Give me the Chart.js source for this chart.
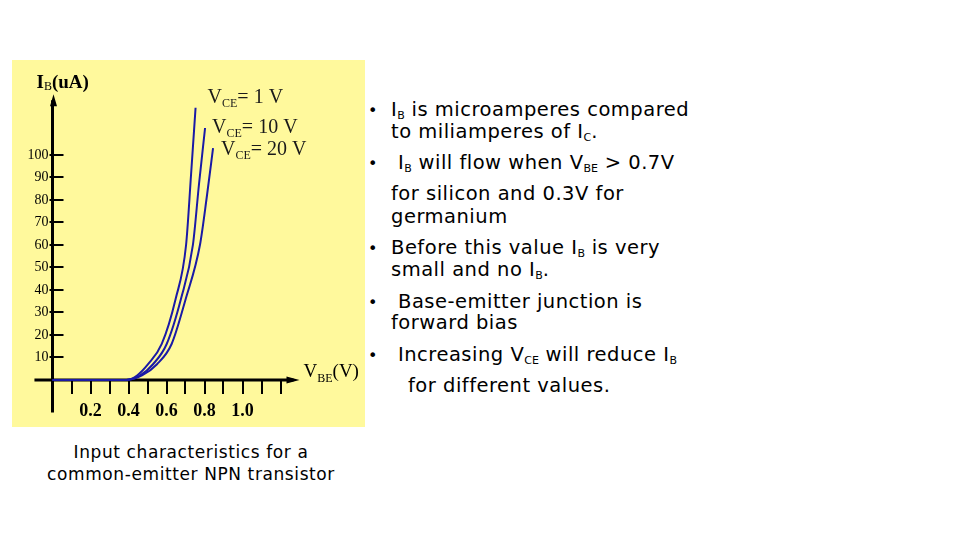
<!DOCTYPE html>
<html>
<head>
<meta charset="utf-8">
<script src="https://cdn.jsdelivr.net/npm/chart.js@4.4.0/dist/chart.umd.min.js"></script>
<style>
  body { margin: 0; background: #fff; width: 960px; height: 540px; position: relative; overflow: hidden;
         font-family: "DejaVu Sans", Verdana, sans-serif; color: #000; }
  #box { position: absolute; left: 12px; top: 60px; width: 353px; height: 367px; background: #fff99c; }
  .t { position: absolute; font-size: 19.5px; line-height: 19px; letter-spacing: 0.5px; white-space: nowrap; }
  .b { position: absolute; left: 368px; font-size: 16px; line-height: 19px; }
  .t sub { font-size: 11px; vertical-align: -3px; line-height: 0; letter-spacing: 0; }
  #cap { position: absolute; left: 0; top: 441px; width: 382px; text-align: center; font-size: 17px;
         letter-spacing: 0.6px; line-height: 22px; }
</style>
</head>
<body>
<div id="box"><canvas id="c" width="353" height="367"></canvas></div>

<div class="b" style="top:101px">•</div>
<div class="t" style="left:391px;top:100px">I<sub>B</sub> is microamperes compared</div>
<div class="t" style="left:391px;top:122px">to miliamperes of I<sub>C</sub>.</div>
<div class="b" style="top:154px">•</div>
<div class="t" style="left:398px;top:153px">I<sub>B</sub> will flow when V<sub>BE</sub> &gt; 0.7V</div>
<div class="t" style="left:391px;top:184px">for silicon and 0.3V for</div>
<div class="t" style="left:391px;top:207px">germanium</div>
<div class="b" style="top:239px">•</div>
<div class="t" style="left:391px;top:238px">Before this value I<sub>B</sub> is very</div>
<div class="t" style="left:391px;top:260px">small and no I<sub>B</sub>.</div>
<div class="b" style="top:293px">•</div>
<div class="t" style="left:398px;top:292px">Base-emitter junction is</div>
<div class="t" style="left:391px;top:313px">forward bias</div>
<div class="b" style="top:346px">•</div>
<div class="t" style="left:398px;top:345px">Increasing V<sub>CE</sub> will reduce I<sub>B</sub></div>
<div class="t" style="left:408px;top:376px">for different values.</div>

<div id="cap">Input characteristics for a<br>common-emitter NPN transistor</div>

<script>
// input characteristic curves, I_B (uA) against V_BE (V)
const vbe1 = [0, 0.387, 0.445, 0.503, 0.575, 0.648, 0.703, 0.729, 0.753];
const ib1 = [0, 0, 2, 7, 16, 36, 60, 91, 121];
const vbe10 = [0, 0.39, 0.461, 0.529, 0.601, 0.676, 0.739, 0.771, 0.803];
const ib10 = [0, 0, 2, 7, 16, 36, 60, 87, 112];
const vbe20 = [0, 0.39, 0.471, 0.55, 0.627, 0.701, 0.776, 0.813, 0.845];
const ib20 = [0, 0, 2, 7, 16, 36, 60, 82, 103];

const curveNames = ['1 V', '10 V', '20 V'];
const xTicks = [0.1, 0.2, 0.3, 0.4, 0.5, 0.6, 0.7, 0.8, 0.9, 1.0, 1.1, 1.2];
const xLabels = [0.2, 0.4, 0.6, 0.8, 1.0];
const yTicks = [10, 20, 30, 40, 50, 60, 70, 80, 90, 100];

const pts = (xs, ys) => xs.map((v, i) => ({ x: v, y: ys[i] }));
const SERIF = '"Liberation Serif", "Times New Roman", serif';

// draws text pieces one after another, e.g. V + subscript
function drawParts(ctx, parts, x, y) {
  for (const [txt, font, dy] of parts) {
    ctx.font = font;
    ctx.fillText(txt, x, y + dy);
    x += ctx.measureText(txt).width;
  }
}

const sketchAxes = {
  id: 'sketchAxes',
  beforeDatasetsDraw(chart) {
    const { ctx, chartArea: a, scales: { x, y } } = chart;
    const x0 = x.getPixelForValue(0), y0 = y.getPixelForValue(0);
    ctx.save();
    ctx.strokeStyle = '#000';
    ctx.fillStyle = '#000';

    // axis lines
    ctx.lineWidth = 3;
    ctx.beginPath();
    ctx.moveTo(a.left, y0); ctx.lineTo(a.right - 6, y0);
    ctx.moveTo(x0, a.bottom); ctx.lineTo(x0, a.top + 6);
    ctx.stroke();

    // arrow heads
    ctx.beginPath();
    ctx.moveTo(a.right, y0); ctx.lineTo(a.right - 13, y0 - 3.5); ctx.lineTo(a.right - 13, y0 + 3.5);
    ctx.closePath();
    ctx.moveTo(x0 + 1, a.top); ctx.lineTo(x0 - 2.5, a.top + 12); ctx.lineTo(x0 + 4.5, a.top + 12);
    ctx.closePath();
    ctx.fill();

    // tick marks
    ctx.lineWidth = 2;
    ctx.beginPath();
    xTicks.forEach(v => {
      const px = Math.round(x.getPixelForValue(v));
      ctx.moveTo(px, y0); ctx.lineTo(px, y0 + 14);
    });
    yTicks.forEach(v => {
      const py = Math.round(y.getPixelForValue(v));
      ctx.moveTo(x0 - 3, py); ctx.lineTo(x0 + 11, py);
    });
    ctx.stroke();

    // tick labels
    ctx.textBaseline = 'alphabetic';
    ctx.textAlign = 'center';
    ctx.font = 'bold 18px ' + SERIF;
    xLabels.forEach(v => ctx.fillText(v.toFixed(1), x.getPixelForValue(v), y0 + 36));
    ctx.textAlign = 'right';
    ctx.textBaseline = 'middle';
    ctx.font = '14px ' + SERIF;
    yTicks.forEach(v => ctx.fillText(String(v), x0 - 4, y.getPixelForValue(v)));

    // axis titles
    ctx.textAlign = 'left';
    ctx.textBaseline = 'alphabetic';
    drawParts(ctx, [
      ['I', 'bold 19px ' + SERIF, 0],
      ['B', '12px ' + SERIF, 2],
      ['(uA)', 'bold 19px ' + SERIF, 0]
    ], x0 - 16, a.top - 6);
    drawParts(ctx, [
      ['V', '19px ' + SERIF, 0],
      ['BE', '12px ' + SERIF, 5],
      ['(V)', '19px ' + SERIF, 0]
    ], a.right + 4, y0 - 3);
    ctx.restore();
  },
  afterDatasetsDraw(chart) {
    const { ctx } = chart;
    const offs = [[12, -5], [7, 5], [8, 7]];
    ctx.save();
    ctx.fillStyle = '#1a1a1a';
    ctx.textAlign = 'left';
    curveNames.forEach((name, i) => {
      const p = chart.getDatasetMeta(i).data.at(-1);
      drawParts(ctx, [
        ['V', '20px ' + SERIF, 0],
        ['CE', '12px ' + SERIF, 4],
        ['= ' + name, '20px ' + SERIF, 0]
      ], p.x + offs[i][0], p.y + offs[i][1]);
    });
    ctx.restore();
  }
};

const lineStyle = {
  borderColor: '#1a1aa6',
  borderWidth: 2,
  pointRadius: 0,
  fill: false,
  cubicInterpolationMode: 'monotone'
};

new Chart(document.getElementById('c'), {
  type: 'line',
  data: {
    datasets: [
      { label: 'VCE = 1 V', data: pts(vbe1, ib1), ...lineStyle },
      { label: 'VCE = 10 V', data: pts(vbe10, ib10), ...lineStyle },
      { label: 'VCE = 20 V', data: pts(vbe20, ib20), ...lineStyle }
    ]
  },
  options: {
    responsive: false,
    animation: false,
    layout: { padding: { left: 22.45, right: 65.5, top: 34.25, bottom: 14.4 } },
    plugins: { legend: { display: false }, tooltip: { enabled: false } },
    scales: {
      x: { type: 'linear', display: false, min: -0.095, max: 1.3 },
      y: { type: 'linear', display: false, min: -14.5, max: 127 }
    }
  },
  plugins: [sketchAxes]
});
</script>
</body>
</html>
